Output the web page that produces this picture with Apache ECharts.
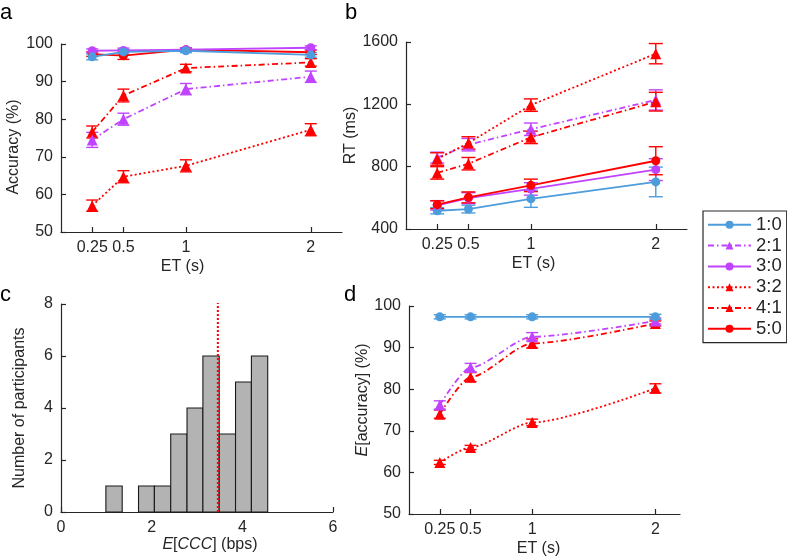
<!DOCTYPE html>
<html>
<head>
<meta charset="utf-8">
<script src="https://cdn.jsdelivr.net/npm/echarts@6/dist/echarts.min.js"></script>
<style>html,body{margin:0;padding:0;background:#fff}#c{width:787px;height:558px}</style>
</head>
<body>
<div id="c"></div>
<script>
// ---------- data ----------
const xVals = [0.25, 0.5, 1, 2];
const xTicks = [0.25, 0.5, 1, 2];
const names = ['1:0', '2:1', '3:0', '3:2', '4:1', '5:0'];

// panel a: accuracy (%)
const acc10 = [96.6, 97.9, 98.2, 97.1];
const acc21 = [74.5, 80.0, 88.0, 91.3];
const acc30 = [98.2, 98.3, 98.5, 99.0];
const acc32 = [57.0, 64.7, 67.6, 77.2];
const acc41 = [76.6, 86.3, 93.6, 95.1];
const acc50 = [97.3, 96.9, 98.5, 97.8];
const accErr10 = [0.8, 0.6, 0.5, 0.6];
const accErr21 = [2.0, 1.6, 1.5, 1.5];
const accErr30 = [0.5, 0.6, 0.5, 0.5];
const accErr32 = [1.5, 1.6, 1.6, 1.6];
const accErr41 = [1.6, 1.7, 1.0, 1.0];
const accErr50 = [0.6, 1.0, 0.5, 0.6];

// panel b: RT (ms)
const rt10 = [517, 528, 594, 702];
const rt21 = [858, 941, 1040, 1228];
const rt30 = [552, 598, 657, 781];
const rt32 = [849, 952, 1195, 1525];
const rt41 = [760, 819, 988, 1217];
const rt50 = [556, 603, 680, 838];
const rtErr10 = [20, 25, 55, 95];
const rtErr21 = [35, 40, 40, 65];
const rtErr30 = [30, 35, 40, 70];
const rtErr32 = [40, 40, 40, 65];
const rtErr41 = [40, 40, 40, 60];
const rtErr50 = [25, 35, 40, 90];

// panel c: histogram of E[CCC]
const binStart = [0.99, 1.35, 1.71, 2.06, 2.42, 2.78, 3.13, 3.49, 3.85, 4.20];
const binEnd   = [1.35, 1.71, 2.06, 2.42, 2.78, 3.13, 3.49, 3.85, 4.20, 4.56];
const counts   = [1, 0, 1, 1, 3, 4, 6, 3, 5, 6];
const meanCCC = 3.46;
const meanLineTop = 8.1;

// panel d: E[accuracy] (%)
const ea10 = [97.4, 97.4, 97.4, 97.4];
const ea21 = [76.2, 85.2, 92.6, 96.4];
const ea32 = [62.4, 66.0, 72.0, 80.2];
const ea41 = [74.0, 82.9, 91.0, 95.8];
const eaErr10 = [0.5, 0.5, 0.5, 0.6];
const eaErr21 = [1.0, 1.0, 1.0, 0.7];
const eaErr32 = [0.5, 0.5, 0.8, 1.1];
const eaErr41 = [1.0, 1.1, 1.1, 0.6];

// ---------- styles ----------
const BLUE = '#4d9ddd', PURPLE = '#c044ff', RED = '#ff0000';
const style = {
  '1:0': {color: BLUE, type: 'solid', symbol: 'circle', size: 9},
  '2:1': {color: PURPLE, type: [6, 3, 1.5, 3], symbol: 'triangle', size: 11},
  '3:0': {color: PURPLE, type: 'solid', symbol: 'circle', size: 9},
  '3:2': {color: RED, type: [2, 2.5], symbol: 'triangle', size: 11},
  '4:1': {color: RED, type: [6, 3, 1.5, 3], symbol: 'triangle', size: 11},
  '5:0': {color: RED, type: 'solid', symbol: 'circle', size: 9}
};
const FONT = 'Liberation Sans';
const TXT = '#262626';
const FS = 16;

function pairs(ys) { return xVals.map((x, i) => [x, ys[i]]); }
function triples(ys, es) { return xVals.map((x, i) => [x, ys[i], es[i]]); }

function lineSeries(name, ys, idx, smooth) {
  const s = style[name];
  return {
    type: 'line', name: name, xAxisIndex: idx, yAxisIndex: idx,
    data: pairs(ys), symbol: s.symbol, symbolSize: s.size, smooth: smooth || false,
    smoothMonotone: 'x',
    lineStyle: {color: s.color, width: 1.8, type: s.type},
    itemStyle: {color: s.color},
    emphasis: {disabled: true}, animation: false, z: 3
  };
}
function errSeries(name, ys, es, idx, cap) {
  const c = style[name].color;
  return {
    type: 'custom', name: 'err' + name, xAxisIndex: idx, yAxisIndex: idx,
    data: triples(ys, es), encode: {x: 0, y: 1}, animation: false, z: 2,
    renderItem: function (params, api) {
      const x = api.value(0), y = api.value(1), e = api.value(2);
      const t = api.coord([x, y + e]), b = api.coord([x, y - e]);
      const st = {stroke: c, lineWidth: 1.4, fill: null};
      return {type: 'group', children: [
        {type: 'line', shape: {x1: t[0], y1: t[1], x2: b[0], y2: b[1]}, style: st},
        {type: 'line', shape: {x1: t[0] - cap, y1: t[1], x2: t[0] + cap, y2: t[1]}, style: st},
        {type: 'line', shape: {x1: b[0] - cap, y1: b[1], x2: b[0] + cap, y2: b[1]}, style: st}
      ]};
    }
  };
}

const axisLine = {show: true, lineStyle: {color: TXT, width: 1.2}};
const tick = {show: true, inside: true, length: 5, lineStyle: {color: TXT, width: 1.2}};
const lbl = {color: TXT, fontFamily: FONT, fontSize: FS, margin: 8, formatter: v => String(v)};
const nameStyle = {color: TXT, fontFamily: FONT, fontSize: FS,
  rich: {i: {fontStyle: 'italic', fontFamily: FONT, fontSize: FS, color: TXT}}};

function etAxis(idx, max, padRight) {
  return {
    type: 'value', gridIndex: idx, min: 0, max: max,
    axisLine: axisLine, splitLine: {show: false},
    axisTick: Object.assign({}, tick, {customValues: xTicks}),
    axisLabel: Object.assign({}, lbl, {customValues: xTicks}),
    name: 'ET (s)', nameLocation: 'middle', nameGap: 27,
    nameTextStyle: Object.assign({}, nameStyle, {padding: [0, padRight, 0, 0]})
  };
}

const accData = {'1:0': [acc10, accErr10], '2:1': [acc21, accErr21], '3:0': [acc30, accErr30],
  '3:2': [acc32, accErr32], '4:1': [acc41, accErr41], '5:0': [acc50, accErr50]};
const rtData = {'1:0': [rt10, rtErr10], '2:1': [rt21, rtErr21], '3:0': [rt30, rtErr30],
  '3:2': [rt32, rtErr32], '4:1': [rt41, rtErr41], '5:0': [rt50, rtErr50]};
const eaData = {'1:0': [ea10, eaErr10], '2:1': [ea21, eaErr21], '3:2': [ea32, eaErr32], '4:1': [ea41, eaErr41]};

const series = [];
// panel a (drawing order: blue on top)
['3:2', '4:1', '2:1', '5:0', '3:0', '1:0'].forEach(n => {
  series.push(errSeries(n, accData[n][0], accData[n][1], 0, 6));
  series.push(lineSeries(n, accData[n][0], 0));
});
// panel b (red on top)
['1:0', '3:0', '5:0', '2:1', '4:1', '3:2'].forEach(n => {
  series.push(errSeries(n, rtData[n][0], rtData[n][1], 1, 7));
  series.push(lineSeries(n, rtData[n][0], 1));
});
// panel c histogram
series.push({
  type: 'custom', name: 'hist', xAxisIndex: 2, yAxisIndex: 2, animation: false,
  data: binStart.map((s, i) => [s, binEnd[i], counts[i]]),
  encode: {x: [0, 1], y: 2},
  renderItem: function (params, api) {
    if (api.value(2) <= 0) return null;
    const p0 = api.coord([api.value(0), api.value(2)]);
    const p1 = api.coord([api.value(1), 0]);
    return {type: 'rect', shape: {x: p0[0], y: p0[1], width: p1[0] - p0[0], height: p1[1] - p0[1]},
      style: {fill: '#b3b3b3', stroke: '#1a1a1a', lineWidth: 1.1}};
  }
});
series.push({
  type: 'line', name: 'mean', xAxisIndex: 2, yAxisIndex: 2, animation: false,
  data: [[meanCCC, 0], [meanCCC, meanLineTop]], symbol: 'none', z: 5,
  lineStyle: {color: RED, width: 2, type: [2, 2]}
});
// panel d
['3:2', '4:1', '2:1', '1:0'].forEach(n => {
  series.push(errSeries(n, eaData[n][0], eaData[n][1], 3, 6));
  series.push(lineSeries(n, eaData[n][0], 3, 0.25));
});

const option = {
  animation: false,
  textStyle: {fontFamily: FONT},
  grid: [
    {left: 61, top: 44, width: 281, height: 188},
    {left: 406, top: 42, width: 281, height: 187},
    {left: 61, top: 304, width: 272, height: 208},
    {left: 409, top: 306, width: 271, height: 208}
  ],
  xAxis: [
    etAxis(0, 2.25, 38),
    etAxis(1, 2.25, 26),
    {
      type: 'value', gridIndex: 2, min: 0, max: 6, interval: 2,
      axisLine: axisLine, axisTick: tick, splitLine: {show: false}, axisLabel: lbl,
      name: '{i|E}[{i|CCC}] (bps)', nameLocation: 'middle', nameGap: 24,
      nameTextStyle: Object.assign({}, nameStyle, {padding: [0, 0, 0, 26]})
    },
    etAxis(3, 2.2, 12)
  ],
  yAxis: [
    {type: 'value', gridIndex: 0, min: 50, max: 100, interval: 10,
      axisLine: axisLine, axisTick: tick, splitLine: {show: false}, axisLabel: lbl,
      name: 'Accuracy (%)', nameLocation: 'middle', nameGap: 39,
      nameTextStyle: Object.assign({}, nameStyle, {padding: [0, 18, 0, 0]})},
    {type: 'value', gridIndex: 1, min: 400, max: 1600, interval: 400,
      axisLine: axisLine, axisTick: tick, splitLine: {show: false}, axisLabel: lbl,
      name: 'RT (ms)', nameLocation: 'middle', nameGap: 46, nameTextStyle: nameStyle},
    {type: 'value', gridIndex: 2, min: 0, max: 8, interval: 2,
      axisLine: axisLine, axisTick: tick, splitLine: {show: false}, axisLabel: lbl,
      name: 'Number of participants', nameLocation: 'middle', nameGap: 33, nameTextStyle: nameStyle},
    {type: 'value', gridIndex: 3, min: 50, max: 100, interval: 10,
      axisLine: axisLine, axisTick: tick, splitLine: {show: false}, axisLabel: lbl,
      name: '{i|E}[accuracy] (%)', nameLocation: 'middle', nameGap: 38,
      nameTextStyle: Object.assign({}, nameStyle, {padding: [0, 0, 0, 20]})}
  ],
  legend: {
    data: names, orient: 'vertical', left: 703, top: 211,
    padding: [4, 5, 4, 4], itemGap: 1.2, itemWidth: 43, itemHeight: 10, itemTextGap: 6,
    borderColor: '#262626', borderWidth: 1.2, backgroundColor: '#fff',
    selectedMode: false,
    textStyle: {fontFamily: FONT, fontSize: 18.5, color: TXT, lineHeight: 19.6}
  },
  graphic: [
    {type: 'text', left: 0, top: 2, style: {text: 'a', font: '22px "Liberation Sans"', fill: '#000'}},
    {type: 'text', left: 345, top: 2, style: {text: 'b', font: '22px "Liberation Sans"', fill: '#000'}},
    {type: 'text', left: 0, top: 284, style: {text: 'c', font: '22px "Liberation Sans"', fill: '#000'}},
    {type: 'text', left: 344, top: 284, style: {text: 'd', font: '22px "Liberation Sans"', fill: '#000'}}
  ],
  series: series
};

const chart = echarts.init(document.getElementById('c'), null, {renderer: 'canvas'});
chart.setOption(option);
</script>
</body>
</html>
